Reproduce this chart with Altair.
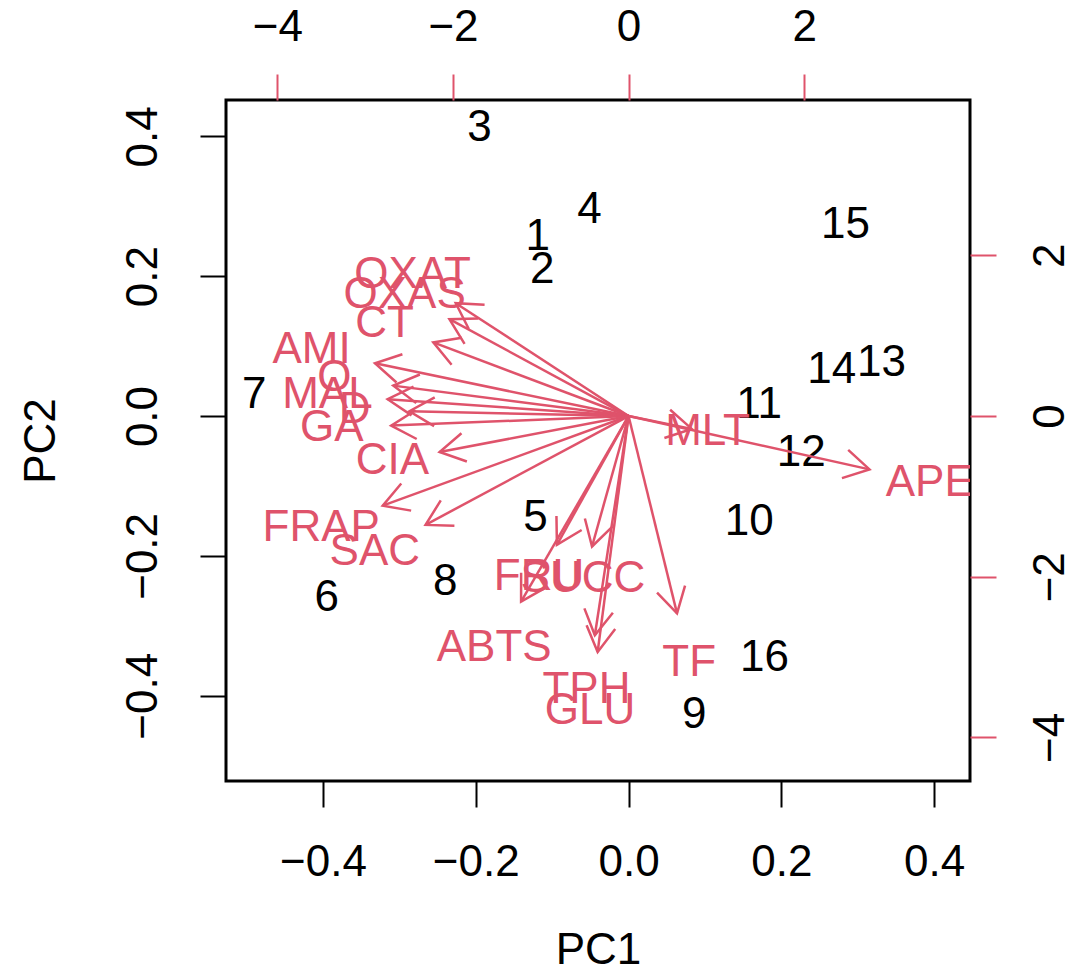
import math
import altair as alt
import pandas as pd

# ---- data (scores: primary axes, loadings: secondary axes) ----
obs_labels = [str(i) for i in range(1, 17)]
pc1 = [-0.119, -0.113, -0.195, -0.051, -0.122, -0.395, -0.490, -0.240,
       0.086, 0.158, 0.171, 0.226, 0.331, 0.266, 0.284, 0.178]
pc2 = [0.256, 0.209, 0.412, 0.295, -0.146, -0.260, 0.030, -0.237,
       -0.428, -0.152, 0.016, -0.053, 0.076, 0.066, 0.273, -0.346]

var_labels = ["OXAT", "OXAS", "CT", "AMI", "O", "MAL", "D", "GA", "CIA", "FRAP",
              "SAC", "FRU", "SUCC", "ABTS", "TPH", "GLU", "TF", "MLT", "APE"]
load1 = [-2.46, -2.55, -2.78, -3.61, -3.35, -3.43, -3.12, -3.38, -2.69, -3.50,
         -2.89, -1.02, -0.52, -1.53, -0.48, -0.44, 0.69, 0.90, 3.43]
load2 = [1.755, 1.506, 1.145, 0.821, 0.473, 0.261, 0.075, -0.149, -0.560, -1.394,
         -1.693, -2.004, -2.029, -2.888, -3.41, -3.67, -3.07, -0.20, -0.83]

xlim = [-0.527, 0.447]
ylim = [-0.522, 0.452]
ratio = 8.7
prim_ticks = [-0.4, -0.2, 0.0, 0.2, 0.4]
sec_ticks = [-4, -2, 0, 2]

W, H = 744, 681
RED = "#DF536B"
FONT = "Liberation Sans"
FS = 44

sx = [v * ratio for v in xlim]
sy = [v * ratio for v in ylim]
px_x = W / (sx[1] - sx[0])
px_y = H / (sy[1] - sy[0])

obs = pd.DataFrame({"label": obs_labels, "pc1": pc1, "pc2": pc2})
var = pd.DataFrame({"label": var_labels, "l1": load1, "l2": load2})
var["x0"] = 0.0
var["y0"] = 0.0
var["tx"] = var["l1"] * 0.8
var["ty"] = var["l2"] * 0.8
var["ang"] = [(math.degrees(math.atan2(-b * px_y, a * px_x)) + 360) % 360
              for a, b in zip(load1, load2)]

ax_bottom = alt.Axis(orient="bottom", values=prim_ticks, format=".1f", grid=False,
                     domain=False, tickSize=26, tickWidth=2, tickColor="black",
                     labelPadding=33, labelFlush=False, labelOverlap=False,
                     title="PC1", titleX=W / 2, titleY=182, titleAlign="center",
                     titleBaseline="alphabetic")
ax_left = alt.Axis(orient="left", values=prim_ticks, format=".1f", grid=False,
                   domain=False, tickSize=26, tickWidth=2, tickColor="black",
                   labelPadding=35, labelAngle=270, labelAlign="center",
                   labelBaseline="bottom", labelFlush=False, labelOverlap=False,
                   title="PC2", titleAngle=270, titleX=-172, titleY=H / 2,
                   titleAlign="center", titleBaseline="alphabetic")
ax_top = alt.Axis(orient="top", values=sec_ticks, format="d", grid=False,
                  domain=False, tickSize=26, tickWidth=2, tickColor=RED,
                  labelPadding=25, labelFlush=False, labelOverlap=False, title="")
ax_right = alt.Axis(orient="right", values=sec_ticks, format="d", grid=False,
                    domain=False, tickSize=26, tickWidth=2, tickColor=RED,
                    labelPadding=32, labelAngle=270, labelAlign="center",
                    labelBaseline="top", labelFlush=False, labelOverlap=False, title="")

px_scale = alt.Scale(domain=xlim, nice=False, zero=False)
py_scale = alt.Scale(domain=ylim, nice=False, zero=False)
sx_scale = alt.Scale(domain=sx, nice=False, zero=False)
sy_scale = alt.Scale(domain=sy, nice=False, zero=False)

points = alt.Chart(obs).mark_text(font=FONT, fontSize=FS, color="black",
                                  align="center", baseline="middle", clip=True).encode(
    x=alt.X("pc1:Q", scale=px_scale, axis=ax_bottom),
    y=alt.Y("pc2:Q", scale=py_scale, axis=ax_left),
    text="label:N",
)

var_text = alt.Chart(var).mark_text(font=FONT, fontSize=FS, color=RED,
                                    align="center", baseline="middle", clip=True).encode(
    x=alt.X("l1:Q", scale=sx_scale, axis=ax_top),
    y=alt.Y("l2:Q", scale=sy_scale, axis=ax_right),
    text="label:N",
)

shafts = alt.Chart(var).mark_rule(color=RED, strokeWidth=2.5, clip=True).encode(
    x=alt.X("x0:Q", scale=sx_scale, axis=ax_top),
    y=alt.Y("y0:Q", scale=sy_scale, axis=ax_right),
    x2="tx:Q",
    y2="ty:Q",
)

heads = alt.Chart(var).mark_point(
    shape="M -1 -0.577 L 0 0 L -1 0.577", filled=False, size=2500,
    strokeWidth=2.5, color=RED, opacity=1, clip=True,
).encode(
    x=alt.X("tx:Q", scale=sx_scale, axis=ax_top),
    y=alt.Y("ty:Q", scale=sy_scale, axis=ax_right),
    angle=alt.Angle("ang:Q", scale=None),
)

secondary = alt.layer(var_text, shafts, heads)

chart = alt.layer(points, secondary).resolve_scale(
    x="independent", y="independent"
).properties(
    width=W, height=H,
    padding={"left": 218, "top": 92, "right": 98, "bottom": 190},
    autosize=alt.AutoSizeParams(type="none"),
).configure_view(
    stroke="black", strokeWidth=3
).configure_axis(
    labelFont=FONT, labelFontSize=FS, labelColor="black",
    titleFont=FONT, titleFontSize=FS, titleFontWeight="normal", titleColor="black",
)

chart.save("out.html", embed_options={"renderer": "svg", "actions": False})
